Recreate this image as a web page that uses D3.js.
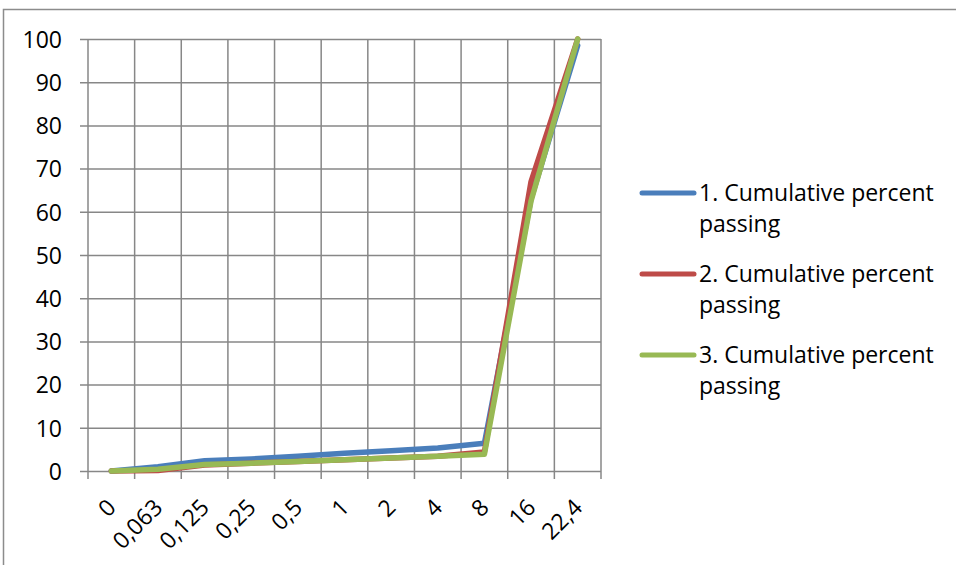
<!DOCTYPE html>
<html>
<head>
<meta charset="utf-8">
<script src="https://cdn.jsdelivr.net/npm/d3@7"></script>
<style>
  html, body { margin: 0; padding: 0; background: #fff; }
  svg { display: block; }
  text { font-family: "Open Sans", Lato, "Liberation Sans", sans-serif; fill: #000; }
</style>
</head>
<body>
<svg id="chart" width="956" height="565"></svg>
<script>
// Sieve sizes (mm) used as category labels
const sieveSizes = ["0", "0,063", "0,125", "0,25", "0,5", "1", "2", "4", "8", "16", "22,4"];

// Cumulative percent passing for the three samples
const series1 = [0, 1.0, 2.4, 2.8, 3.4, 4.1, 4.7, 5.3, 6.4, 63, 98.5];
const series2 = [0, 0.1, 1.4, 1.8, 2.2, 2.6, 3.0, 3.4, 4.4, 67, 100];
const series3 = [0, 0.4, 1.5, 1.8, 2.2, 2.6, 3.0, 3.4, 3.9, 62.5, 100];

const seriesNames = [
  "1. Cumulative percent passing",
  "2. Cumulative percent passing",
  "3. Cumulative percent passing"
];
const seriesColors = ["#4a7ebb", "#be4b48", "#98b954"];
const yTicks = [0, 10, 20, 30, 40, 50, 60, 70, 80, 90, 100];

const svg = d3.select("#chart");

// Chart area frame
svg.append("rect")
  .attr("x", 3.5).attr("y", 9.5)
  .attr("width", 1000).attr("height", 600)
  .attr("fill", "none").attr("stroke", "#8c8c8c").attr("stroke-width", 1.5);

const plot = { left: 88, right: 601, top: 39, bottom: 471 };

const x = d3.scaleBand()
  .domain(sieveSizes)
  .range([plot.left, plot.right])
  .padding(0);

const y = d3.scaleLinear()
  .domain([0, 100])
  .range([plot.bottom, plot.top]);

const gridColor = "#878787";
const fontSize = 23;

// Horizontal gridlines + y tick labels
const yAxis = d3.axisLeft(y)
  .tickValues(yTicks)
  .tickSize(-(plot.right - plot.left))
  .tickFormat(d3.format("d"));

const gy = svg.append("g")
  .attr("transform", `translate(${plot.left},0)`)
  .call(yAxis);
gy.select(".domain").remove();
gy.selectAll(".tick line")
  .attr("x1", -8)
  .attr("stroke", gridColor).attr("stroke-width", 1.5);
gy.selectAll(".tick text")
  .attr("font-size", fontSize)
  .attr("x", -26)
  .attr("dy", "0.36em");

// Vertical gridlines at category boundaries (extend below axis as tick marks)
const boundaries = sieveSizes.map(s => x(s)).concat([x(sieveSizes[sieveSizes.length - 1]) + x.bandwidth()]);
svg.append("g").selectAll("line")
  .data(boundaries)
  .join("line")
  .attr("x1", d => d).attr("x2", d => d)
  .attr("y1", plot.top).attr("y2", plot.bottom + 8)
  .attr("stroke", gridColor).attr("stroke-width", 1.5);

// Rotated category labels
svg.append("g").selectAll("text")
  .data(sieveSizes)
  .join("text")
  .attr("font-size", fontSize)
  .attr("text-anchor", "end")
  .attr("transform", d => `translate(${x(d) + x.bandwidth() / 2 + 6},${plot.bottom + 38}) rotate(-45)`)
  .text(d => d);

// Series lines
const allSeries = [series1, series2, series3];
const line = d3.line()
  .x((d, i) => x(sieveSizes[i]) + x.bandwidth() / 2)
  .y(d => y(d));

svg.append("g").selectAll("path")
  .data(allSeries)
  .join("path")
  .attr("d", d => line(d))
  .attr("fill", "none")
  .attr("stroke", (d, i) => seriesColors[i])
  .attr("stroke-width", 5.5)
  .attr("stroke-linejoin", "round")
  .attr("stroke-linecap", "round");

// Legend
const legend = svg.append("g");
const legendTop = 193, legendGap = 81;
seriesNames.forEach((name, i) => {
  const ly = legendTop + i * legendGap;
  legend.append("line")
    .attr("x1", 642).attr("x2", 694)
    .attr("y1", ly).attr("y2", ly)
    .attr("stroke", seriesColors[i])
    .attr("stroke-width", 5)
    .attr("stroke-linecap", "round");
  const words = name.split(" ");
  const t = legend.append("text")
    .attr("x", 699).attr("y", ly + 8)
    .attr("font-size", fontSize);
  t.append("tspan").attr("x", 699).text(words.slice(0, 3).join(" "));
  t.append("tspan").attr("x", 699).attr("dy", 31).text(words.slice(3).join(" "));
});
</script>
</body>
</html>
